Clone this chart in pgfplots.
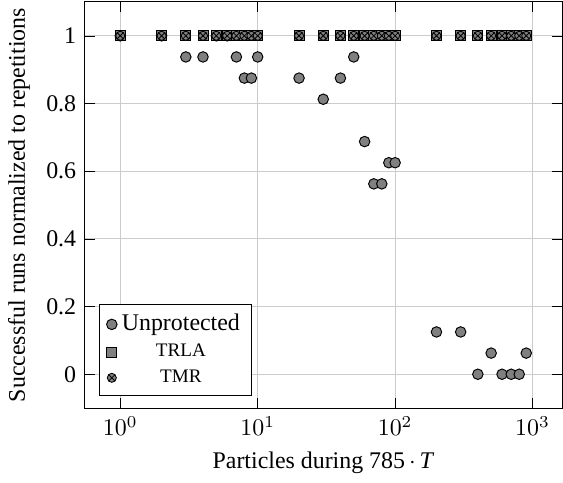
\documentclass[border=0pt]{standalone}
\usepackage{fontspec}
\setmainfont{Liberation Serif}
\usepackage{pgfplots}
\pgfplotsset{compat=1.18}
\usetikzlibrary{plotmarks}
\definecolor{mk}{HTML}{808080}
\begin{document}
\begin{tikzpicture}
\begin{axis}[
  scale only axis, width=200pt, height=170pt,
  xmode=log, xmin=0.55, xmax=1650, ymin=-0.1, ymax=1.1,
  log basis x=10,
  xtick={1,10,100,1000},
  ytick={0,0.2,0.4,0.6,0.8,1},
  grid=both,
  major grid style={gray!40, line width=0.5pt},
  minor grid style={gray!40, line width=0.5pt},
  yminorgrids=false,
  tick style={black},
  /pgf/number format/assume math mode=true,
  xticklabel style={font=\rmfamily},
  yticklabel style={font=\rmfamily},
  xlabel={Particles during 785\,$\cdot$\,\textit{T}},
  ylabel={Successful runs normalized to repetitions},
  legend pos=south west,
  legend cell align=center,
  legend style={font=\footnotesize, draw=black, row sep=0pt},
]
\addplot[only marks, mark=*, mark size=2.2pt, mark options={fill=mk, draw=black, line width=0.4pt}] coordinates {
(1,1)(2,1)(3,0.9375)(4,0.9375)(5,1)(6,1)(7,0.9375)(8,0.875)(9,0.875)(10,0.9375)
(20,0.875)(30,0.8125)(40,0.875)(50,0.9375)(60,0.6875)(70,0.5625)(80,0.5625)(90,0.625)(100,0.625)
(200,0.125)(300,0.125)(400,0)(500,0.0625)(600,0)(700,0)(800,0)(900,0.0625)
};
\addlegendentry{\normalsize Unprotected}
\addplot[only marks, mark=square*, mark size=2.1pt, mark options={fill=mk, draw=black, line width=0.4pt}] coordinates {
(1,1)(2,1)(3,1)(4,1)(5,1)(6,1)(7,1)(8,1)(9,1)(10,1)
(20,1)(30,1)(40,1)(50,1)(60,1)(70,1)(80,1)(90,1)(100,1)
(200,1)(300,1)(400,1)(500,1)(600,1)(700,1)(800,1)(900,1)
};
\addlegendentry{TRLA}
\addplot[only marks, mark=otimes*, mark size=1.9pt, mark options={fill=mk, draw=black, line width=0.35pt}] coordinates {
(1,1)(2,1)(3,1)(4,1)(5,1)(6,1)(7,1)(8,1)(9,1)(10,1)
(20,1)(30,1)(40,1)(50,1)(60,1)(70,1)(80,1)(90,1)(100,1)
(200,1)(300,1)(400,1)(500,1)(600,1)(700,1)(800,1)(900,1)
};
\addlegendentry{TMR}
\end{axis}
\end{tikzpicture}
\end{document}
